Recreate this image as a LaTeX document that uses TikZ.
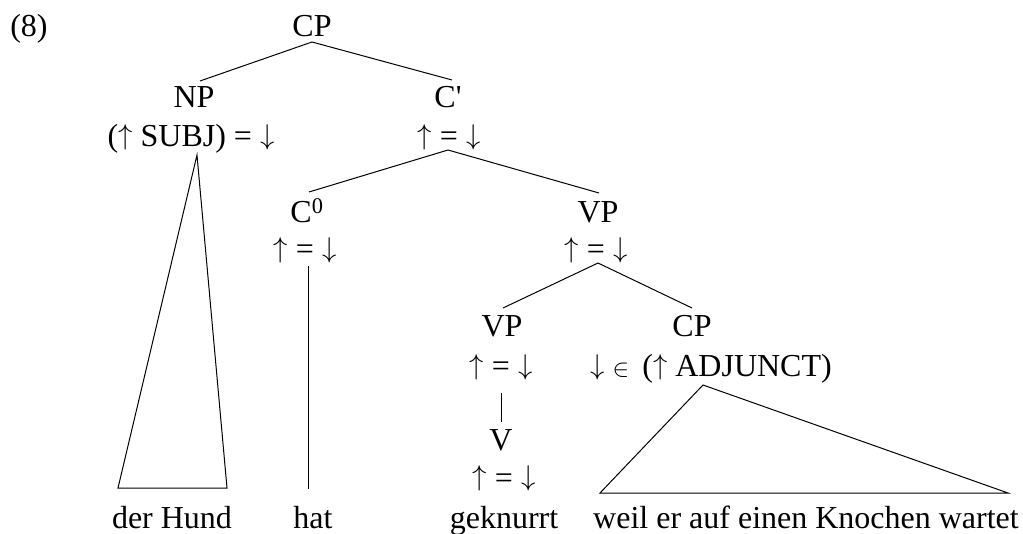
\documentclass[tikz,border=0pt]{standalone}
\usepackage{fontspec}
\usepackage{graphicx}
\setmainfont{Liberation Serif}
\newcommand\upa{\raisebox{2.5pt}{\scalebox{1.15}{$\uparrow$}}}
\newcommand\dna{\raisebox{2.5pt}{\scalebox{1.15}{$\downarrow$}}}
\newcommand\eqa{\upa\ =\ \dna}
\begin{document}
\begin{tikzpicture}[x=1pt,y=-1pt,
  every node/.style={inner sep=0pt, anchor=base, font=\fontsize{32}{38}\selectfont},
  edge/.style={line width=1pt}]
\useasboundingbox (0,0) rectangle (1023,534);
% labels
\node (ex) at (29,37) {(8)};
\node (cp) at (312,37) {CP};
\node (np) at (194,108) {NP};
\node (npa) at (191,147) {(\upa\ SUBJ) = \dna};
\node (cb) at (448,108) {C\textquotesingle};
\node (cba) at (449,147) {\eqa};
\node (c0) at (307,223) {C\textsuperscript{0}};
\node (c0a) at (305,260) {\eqa};
\node (vp) at (598,223) {VP};
\node (vpa) at (596,260) {\eqa};
\node (vp2) at (502,337) {VP};
\node (vp2a) at (501,377) {\eqa};
\node (cp2) at (692,337) {CP};
\node (cp2a) at (711,377) {\dna\ {\fontsize{24}{24}\selectfont$\in$}\, (\upa\ ADJUNCT)};
\node (v) at (501,450) {V};
\node (va) at (504,488) {\eqa};
% words
\node (w1) at (172,528) {der Hund};
\node (w2) at (313,528) {hat};
\node (w3) at (504,528) {geknurrt};
\node (w4) at (806,528) {weil er auf einen Knochen wartet};
% edges
\draw[edge] ([yshift=-5pt]cp.base) -- ([xshift=6pt,yshift=27pt]np.base);
\draw[edge] ([yshift=-5pt]cp.base) -- ([xshift=4pt,yshift=28pt]cb.base);
\draw[edge] ([xshift=-1pt,yshift=-3pt]cba.base) -- ([xshift=2pt,yshift=31pt]c0.base);
\draw[edge] ([xshift=-1pt,yshift=-3pt]cba.base) -- ([xshift=1pt,yshift=30pt]vp.base);
\draw[edge] ([xshift=2pt,yshift=-3pt]vpa.base) -- ([xshift=1pt,yshift=29pt]vp2.base);
\draw[edge] ([xshift=2pt,yshift=-3pt]vpa.base) -- ([yshift=29pt]cp2.base);
\draw[edge] ([yshift=-16pt]vp2a.base) -- ([yshift=28pt]v.base);
\draw[edge] ([xshift=3pt,yshift=-6pt]c0a.base) -- ([xshift=-5pt,yshift=39pt]w2.base);
\draw[edge] ([xshift=6pt,yshift=-8pt]npa.base)
  -- ([xshift=-54pt,yshift=40pt]w1.base) -- ([xshift=55pt,yshift=40pt]w1.base) -- cycle;
\draw[edge] ([xshift=-8pt,yshift=-8pt]cp2a.base)
  -- ([xshift=-206pt,yshift=35pt]w4.base) -- ([xshift=202pt,yshift=35pt]w4.base) -- cycle;
\end{tikzpicture}
\end{document}
